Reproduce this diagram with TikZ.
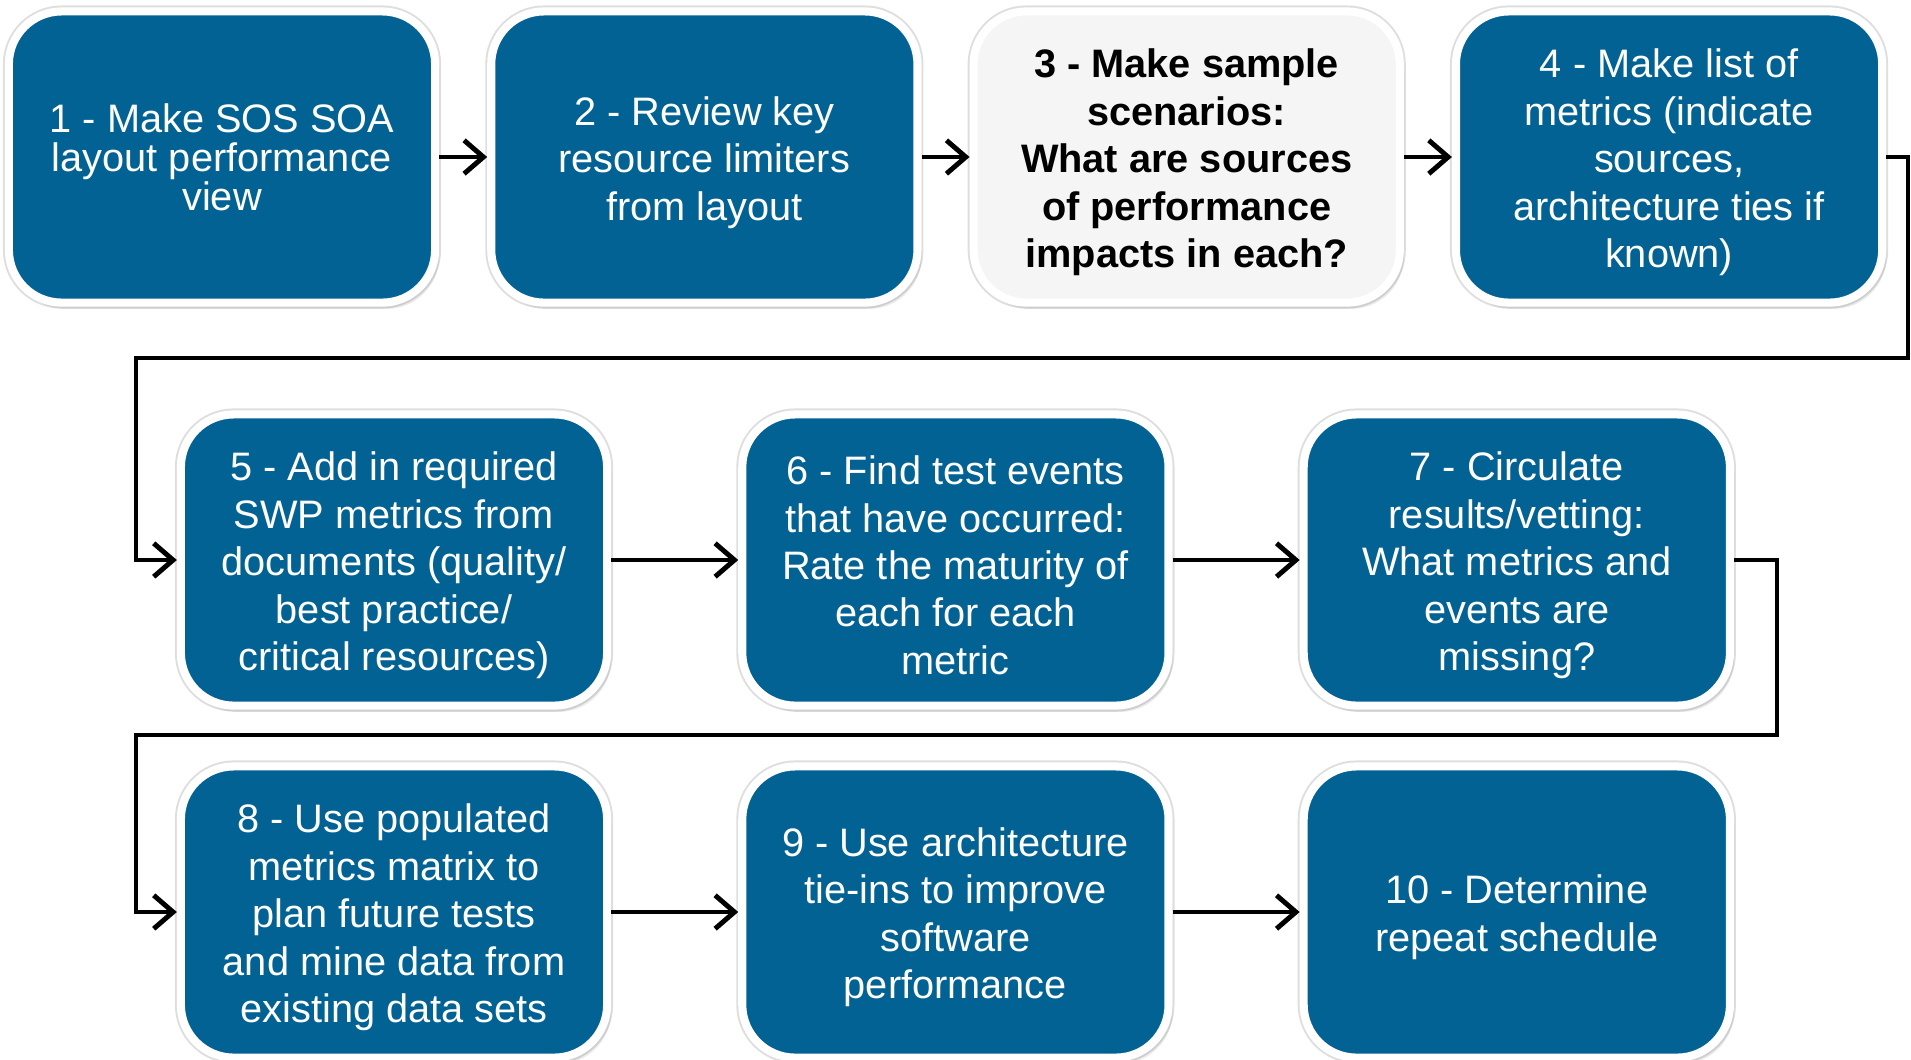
\documentclass[tikz,border=0pt]{standalone}
\usepackage{fontspec}
\setmainfont{Liberation Sans}
\usetikzlibrary{chains,positioning,shadows,arrows.meta}
\definecolor{stageblue}{RGB}{3,98,148}
\definecolor{stagegray}{RGB}{245,245,245}
\newcommand{\toppad}{\rule{0pt}{11.2pt}}

\begin{document}
\begin{tikzpicture}[x=0.01cm, y=-0.01cm,
stage/.style={rectangle, rounded corners=15pt, draw=white, line width=2.3pt,
fill=stageblue, text=white, align=center, inner sep=0pt,
minimum width=4.26cm, minimum height=2.91cm,
font=\fontsize{11.3}{13.5}\selectfont,
preaction={draw=black!13, line width=3.4pt},
drop shadow={shadow xshift=1.2pt, shadow yshift=-1.8pt, opacity=0.16}},
stagec/.style={stage,on chain,join},
stagelight/.style={fill=stagegray, text=black, font=\fontsize{11.3}{13.5}\selectfont\bfseries},
link/.style={line width=1.4pt,-{Straight Barb[length=5.5pt,width=9.5pt]}}]

\useasboundingbox (0,0) rectangle (1911,1059);

%first row
\begin{scope}[start chain=going right,nodes=stagec,every
join/.style={link},node distance=0.48cm, shift={(222,157)}]
\path
	node[font=\fontsize{11.3}{11.1}\selectfont] (s1) {1 - Make SOS SOA\\layout performance\\view}
	node (s2) {\toppad 2 - Review key\\resource limiters\\from layout}
	node[stagelight] (s3) {\toppad 3 - Make sample\\scenarios:\\What are sources\\of performance\\impacts in each?}
	node (s4) {\toppad 4 - Make list of\\metrics (indicate\\sources,\\architecture ties if\\known)};
\end{scope}

%second row
\begin{scope}[start chain=going right,nodes=stagec,every
join/.style={link},node distance=1.27cm, shift={(394,560)}]
\path
	node (s5) {\toppad 5 - Add in required\\SWP metrics from\\documents (quality/\\best practice/\\critical resources)}
	node (s6) {\toppad 6 - Find test events\\that have occurred:\\Rate the maturity of\\each for each\\metric}
	node (s7) {\toppad 7 - Circulate\\results/vetting:\\What metrics and\\events are\\missing?};
\end{scope}

%third row
\begin{scope}[start chain=going right,nodes=stagec,every
join/.style={link},node distance=1.27cm, shift={(394,912)}]
\path
	node (s8) {\toppad 8 - Use populated\\metrics matrix to\\plan future tests\\and mine data from\\existing data sets}
	node (s9) {\toppad 9 - Use architecture\\tie-ins to improve\\software\\performance}
	node (s10) {\toppad 10 - Determine\\repeat schedule};
\end{scope}

% row breaks
\coordinate (r1) at (1908,358);
\coordinate (l1) at (136,358);
\draw[link] (s4.east) -| (r1) -- (l1) |- (s5.west);

\coordinate (r2) at (1777,735);
\coordinate (l2) at (136,735);
\draw[link] (s7.east) -| (r2) -- (l2) |- (s8.west);
\end{tikzpicture}
\end{document}
